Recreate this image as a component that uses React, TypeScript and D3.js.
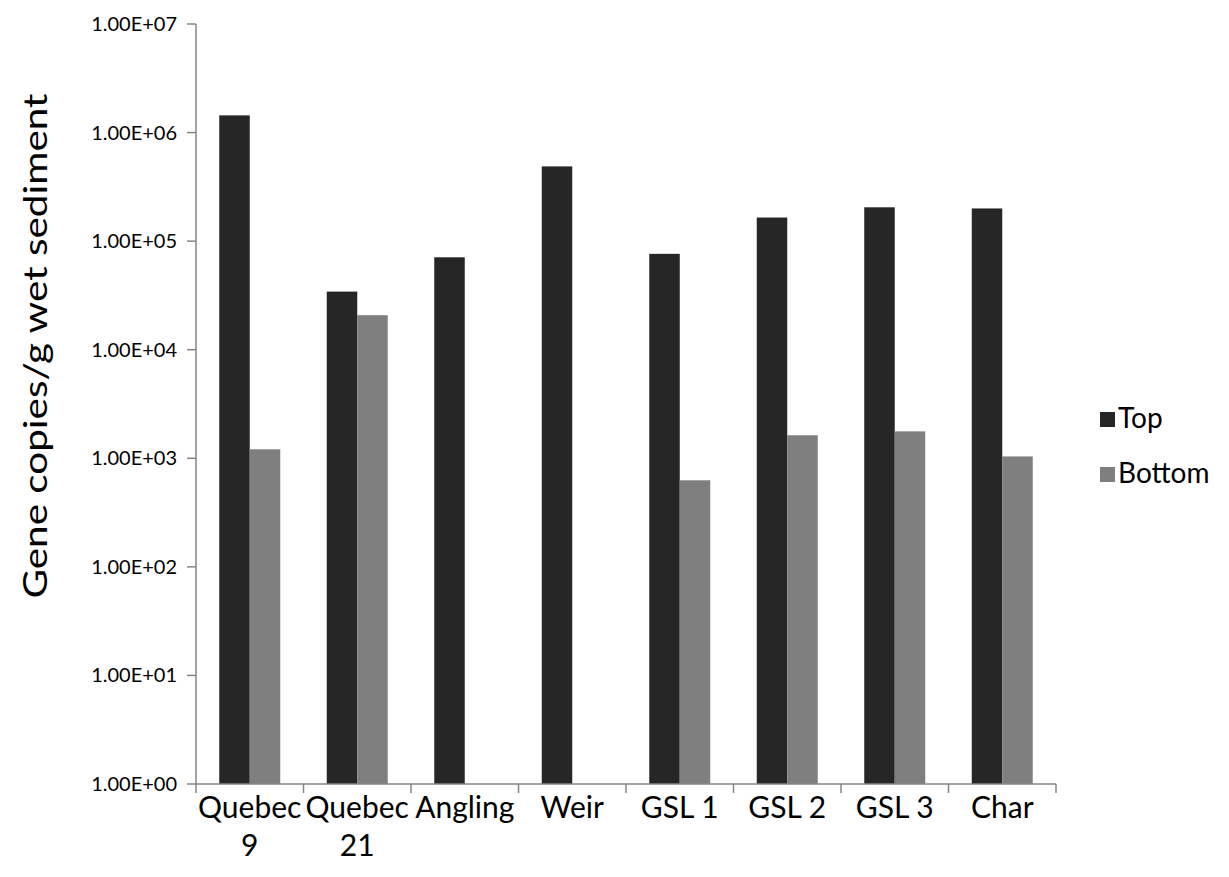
import React from "react";
import * as d3 from "d3";

// Sites sampled, with gene copy counts for the top and bottom sediment layers
const sites = ["Quebec 9", "Quebec 21", "Angling", "Weir", "GSL 1", "GSL 2", "GSL 3", "Char"];
const topValues = [1.44e6, 3.43e4, 7.1e4, 4.88e5, 7.64e4, 1.65e5, 2.05e5, 2.0e5];
const bottomValues: (number | null)[] = [1.21e3, 2.08e4, null, null, 627, 1.63e3, 1.77e3, 1.04e3];
const seriesNames = ["Top", "Bottom"];
const seriesColors = ["#262626", "#7f7f7f"];
const yTickValues = [1, 10, 100, 1e3, 1e4, 1e5, 1e6, 1e7];

const W = 1229;
const H = 877;
const plot = { left: 196, right: 1056, top: 24, bottom: 784 };
const axisColor = "#868686";
const font = "Lato, 'Open Sans', sans-serif";

// Wrap long category names onto two lines, the way a narrow axis slot would
function wrapLabel(label: string, maxChars = 7): string[] {
  if (label.length <= maxChars) return [label];
  const i = label.lastIndexOf(" ");
  return i > 0 ? [label.slice(0, i), label.slice(i + 1)] : [label];
}

function formatExp(v: number): string {
  const e = Math.round(Math.log10(v));
  const mant = v / Math.pow(10, e);
  return `${mant.toFixed(2)}E+${String(e).padStart(2, "0")}`;
}

export default function App() {
  const x = d3
    .scaleBand<string>()
    .domain(sites)
    .range([plot.left, plot.right])
    .paddingInner(0.4326)
    .paddingOuter(0.2163);
  const xs = d3.scaleBand<string>().domain(seriesNames).range([0, x.bandwidth()]);
  const y = d3.scaleLog().domain([1, 1e7]).range([plot.bottom, plot.top]);

  const step = x.step();
  const boundaries = d3.range(sites.length + 1).map((i) => plot.left + i * step);

  const rows = sites.map((s, i) => ({
    site: s,
    values: [topValues[i], bottomValues[i]] as (number | null)[],
  }));

  return (
    <svg width={W} height={H} style={{ display: "block", position: "absolute", left: 0, top: 0 }}>
      <rect width={W} height={H} fill="#ffffff" />

      {/* bars */}
      {rows.map((r) => (
        <g key={r.site} transform={`translate(${x(r.site)},0)`}>
          {r.values.map((v, j) =>
            v == null ? null : (
              <rect
                key={j}
                x={xs(seriesNames[j])}
                y={y(v)}
                width={xs.bandwidth()}
                height={y(1) - y(v)}
                fill={seriesColors[j]}
              />
            )
          )}
        </g>
      ))}

      {/* y axis */}
      <line x1={plot.left} x2={plot.left} y1={plot.top} y2={plot.bottom} stroke={axisColor} strokeWidth={1.5} />
      {yTickValues.map((t) => (
        <g key={t}>
          <line x1={plot.left - 9} x2={plot.left} y1={y(t)} y2={y(t)} stroke={axisColor} strokeWidth={1.5} />
          <text x={177} y={y(t) + 7} textAnchor="end" fontFamily={font} fontSize={20} fill="#000">
            {formatExp(t)}
          </text>
        </g>
      ))}

      {/* x axis */}
      <line x1={plot.left} x2={plot.right} y1={plot.bottom} y2={plot.bottom} stroke={axisColor} strokeWidth={1.5} />
      {boundaries.map((bx, i) => (
        <line key={i} x1={bx} x2={bx} y1={plot.bottom} y2={plot.bottom + 9} stroke={axisColor} strokeWidth={1.5} />
      ))}
      {sites.map((s) => {
        const cx = (x(s) as number) + x.bandwidth() / 2;
        return (
          <text key={s} textAnchor="middle" fontFamily={font} fontSize={30} fill="#000">
            {wrapLabel(s).map((line, k) => (
              <tspan key={k} x={cx} y={818 + k * 38}>
                {line}
              </tspan>
            ))}
          </text>
        );
      })}

      {/* y axis title */}
      <text
        transform={`translate(47,346) rotate(-90)`}
        textAnchor="middle"
        fontFamily={font}
        fontSize={33}
        textLength={505}
        lengthAdjust="spacingAndGlyphs"
        fill="#000"
      >
        Gene copies/g wet sediment
      </text>

      {/* legend */}
      {seriesNames.map((name, i) => (
        <g key={name} transform={`translate(1100,${412 + i * 55})`}>
          <rect width={15} height={15} fill={seriesColors[i]} />
          <text x={18} y={16} fontFamily={font} fontSize={28} fill="#000">
            {name}
          </text>
        </g>
      ))}
    </svg>
  );
}
